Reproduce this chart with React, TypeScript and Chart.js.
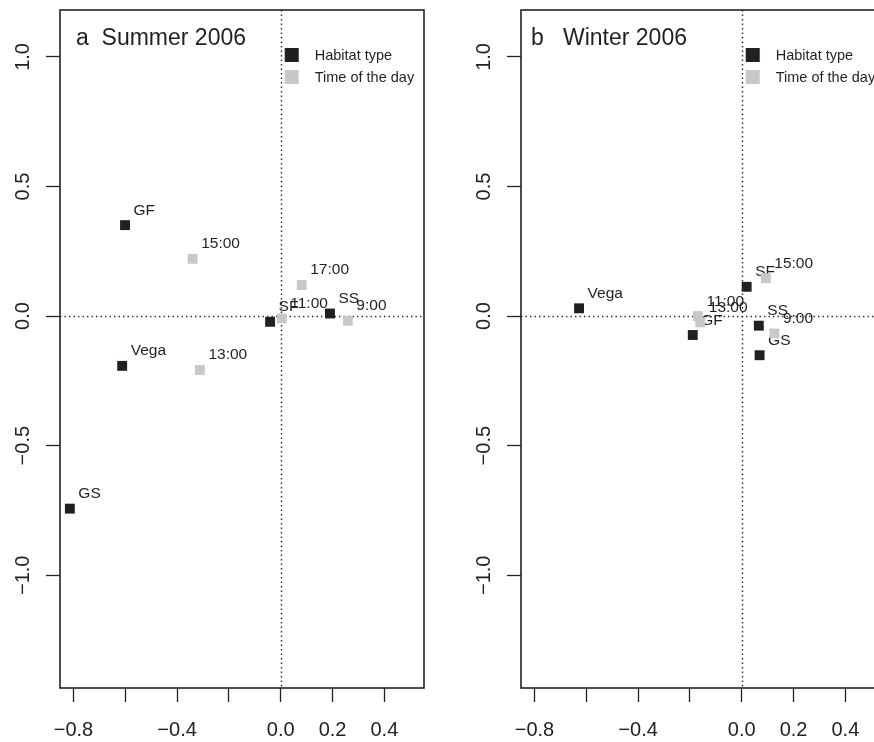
import React, { useEffect, useRef } from "react";
import { Chart, registerables } from "chart.js";

Chart.register(...registerables);

// ---- axis ticks ----
const xTickValues = [-0.8, -0.6, -0.4, -0.2, 0, 0.2, 0.4];
const xTickLabels = ["\u22120.8", "", "\u22120.4", "", "0.0", "0.2", "0.4"];
const yTickValues = [-1, -0.5, 0, 0.5, 1];
const yTickLabels = ["\u22121.0", "\u22120.5", "0.0", "0.5", "1.0"];
const xRange = [-0.852, 0.553];
const yRange = [-1.435, 1.181];

const legendLabels = ["Habitat type", "Time of the day"];

// ---- panel a: Summer 2006 ----
const summerTitle = "a  Summer 2006";
const summerHabitatLabels = ["GF", "Vega", "GS", "SF", "SS"];
const summerHabitatX = [-0.601, -0.612, -0.814, -0.041, 0.19];
const summerHabitatY = [0.351, -0.192, -0.743, -0.022, 0.01];
const summerTimeLabels = ["15:00", "17:00", "11:00", "9:00", "13:00"];
const summerTimeX = [-0.34, 0.081, 0.004, 0.259, -0.312];
const summerTimeY = [0.221, 0.12, -0.009, -0.018, -0.208];

// ---- panel b: Winter 2006 ----
const winterTitle = "b   Winter 2006";
const winterHabitatLabels = ["Vega", "GF", "SF", "SS", "GS"];
const winterHabitatX = [-0.628, -0.189, 0.019, 0.066, 0.069];
const winterHabitatY = [0.03, -0.073, 0.113, -0.037, -0.151];
const winterTimeLabels = ["11:00", "13:00", "15:00", "9:00"];
const winterTimeX = [-0.169, -0.16, 0.093, 0.126];
const winterTimeY = [0.0, -0.024, 0.146, -0.067];

const BLACK = "#231f20";
const GRAY = "#c8c8c8";
const FONT = "'Liberation Sans', Arial, Helvetica, sans-serif";

type PanelProps = {
  title: string;
  titleDx: number;
  left: number;
  hLabels: string[];
  hX: number[];
  hY: number[];
  tLabels: string[];
  tX: number[];
  tY: number[];
};

function Panel(props: PanelProps) {
  const ref = useRef<HTMLCanvasElement | null>(null);
  useEffect(() => {
    if (!ref.current) return;
    const { title, titleDx, hLabels, hX, hY, tLabels, tX, tY } = props;
    const deco = {
      id: "panelDeco",
      beforeDatasetsDraw(chart: any) {
        const { ctx, chartArea: a } = chart;
        const xs = chart.scales.x;
        const ys = chart.scales.y;
        ctx.save();
        // dotted zero lines
        ctx.strokeStyle = "#2a2a2a";
        ctx.lineWidth = 1.4;
        ctx.setLineDash([1.4, 3.1]);
        const x0 = Math.round(xs.getPixelForValue(0)) + 0.5;
        const y0 = Math.round(ys.getPixelForValue(0)) + 0.5;
        ctx.beginPath();
        ctx.moveTo(x0, a.top);
        ctx.lineTo(x0, a.bottom);
        ctx.stroke();
        ctx.beginPath();
        ctx.moveTo(a.left, y0);
        ctx.lineTo(a.right, y0);
        ctx.stroke();
        ctx.setLineDash([]);
        // frame
        ctx.strokeStyle = "#222";
        ctx.lineWidth = 1.6;
        ctx.strokeRect(a.left, a.top, a.right - a.left, a.bottom - a.top);
        // y tick labels (rotated)
        ctx.fillStyle = "#222";
        ctx.font = `20px ${FONT}`;
        ys.ticks.forEach((t: any, i: number) => {
          const py = ys.getPixelForValue(t.value);
          ctx.save();
          ctx.translate(a.left - 38, py);
          ctx.rotate(-Math.PI / 2);
          ctx.textAlign = "center";
          ctx.textBaseline = "alphabetic";
          ctx.fillText(yTickLabels[i], 0, 7.2);
          ctx.restore();
        });
        // title
        ctx.fillStyle = BLACK;
        ctx.font = `23px ${FONT}`;
        ctx.textAlign = "left";
        ctx.textBaseline = "alphabetic";
        ctx.fillText(title, a.left + titleDx, a.top + 35);
        // legend
        const lx = xs.getPixelForValue(0) + 4;
        const colors = [BLACK, GRAY];
        ctx.font = `14.5px ${FONT}`;
        legendLabels.forEach((lab, i) => {
          const cy = a.top + 45 + i * 22;
          ctx.fillStyle = colors[i];
          ctx.fillRect(lx, cy - 7, 14, 14);
          ctx.fillStyle = BLACK;
          ctx.fillText(lab, lx + 30, cy + 5.2);
        });
        ctx.restore();
      },
      afterDatasetDraw(chart: any, args: any) {
        const ds: any = chart.data.datasets[args.index];
        const labels: string[] = ds.pointLabels || [];
        const { ctx } = chart;
        ctx.save();
        ctx.fillStyle = BLACK;
        ctx.font = `15.5px ${FONT}`;
        ctx.textAlign = "left";
        ctx.textBaseline = "alphabetic";
        args.meta.data.forEach((el: any, i: number) => {
          ctx.fillText(labels[i], el.x + 8.5, el.y - 10.5);
        });
        ctx.restore();
      },
    };

    const chart = new Chart(ref.current, {
      type: "scatter",
      data: {
        datasets: [
          {
            label: legendLabels[1],
            data: tX.map((x, i) => ({ x, y: tY[i] })),
            pointLabels: tLabels,
            backgroundColor: GRAY,
            borderWidth: 0,
            pointStyle: "rect",
            pointRadius: 7,
            order: 0,
          } as any,
          {
            label: legendLabels[0],
            data: hX.map((x, i) => ({ x, y: hY[i] })),
            pointLabels: hLabels,
            backgroundColor: BLACK,
            borderWidth: 0,
            pointStyle: "rect",
            pointRadius: 7,
            order: 1,
          } as any,
        ],
      },
      options: {
        animation: false,
        responsive: false,
        events: [],
        layout: { padding: { top: 10, right: 16, left: 0, bottom: 0 } },
        plugins: { legend: { display: false }, tooltip: { enabled: false } },
        scales: {
          x: {
            type: "linear",
            min: xRange[0],
            max: xRange[1],
            afterBuildTicks: (s: any) => {
              s.ticks = xTickValues.map((v) => ({ value: v }));
            },
            afterFit: (s: any) => {
              s.height = 54;
            },
            border: { display: false },
            grid: {
              drawOnChartArea: false,
              drawTicks: true,
              tickLength: 14,
              tickColor: "#222",
              tickWidth: 1.3,
            },
            ticks: {
              autoSkip: false,
              maxRotation: 0,
              minRotation: 0,
              padding: 16,
              color: "#222",
              font: { family: FONT, size: 20 },
              callback: (_v: any, i: number) => xTickLabels[i],
            },
          },
          y: {
            type: "linear",
            min: yRange[0],
            max: yRange[1],
            afterBuildTicks: (s: any) => {
              s.ticks = yTickValues.map((v) => ({ value: v }));
            },
            afterFit: (s: any) => {
              s.width = 60;
            },
            border: { display: false },
            grid: {
              drawOnChartArea: false,
              drawTicks: true,
              tickLength: 14,
              tickColor: "#222",
              tickWidth: 1.3,
            },
            ticks: { display: false },
          },
        },
      } as any,
      plugins: [deco as any],
    });
    return () => chart.destroy();
  }, []);
  return (
    <canvas
      ref={ref}
      width={440}
      height={742}
      style={{ position: "absolute", left: props.left, top: 0, width: 440, height: 742 }}
    />
  );
}

export default function App() {
  return (
    <div
      style={{
        position: "fixed",
        left: 0,
        top: 0,
        width: 874,
        height: 742,
        overflow: "hidden",
        background: "#fff",
      }}
    >
      <Panel
        title={summerTitle}
        titleDx={16}
        left={0}
        hLabels={summerHabitatLabels}
        hX={summerHabitatX}
        hY={summerHabitatY}
        tLabels={summerTimeLabels}
        tX={summerTimeX}
        tY={summerTimeY}
      />
      <Panel
        title={winterTitle}
        titleDx={10}
        left={461}
        hLabels={winterHabitatLabels}
        hX={winterHabitatX}
        hY={winterHabitatY}
        tLabels={winterTimeLabels}
        tX={winterTimeX}
        tY={winterTimeY}
      />
    </div>
  );
}
